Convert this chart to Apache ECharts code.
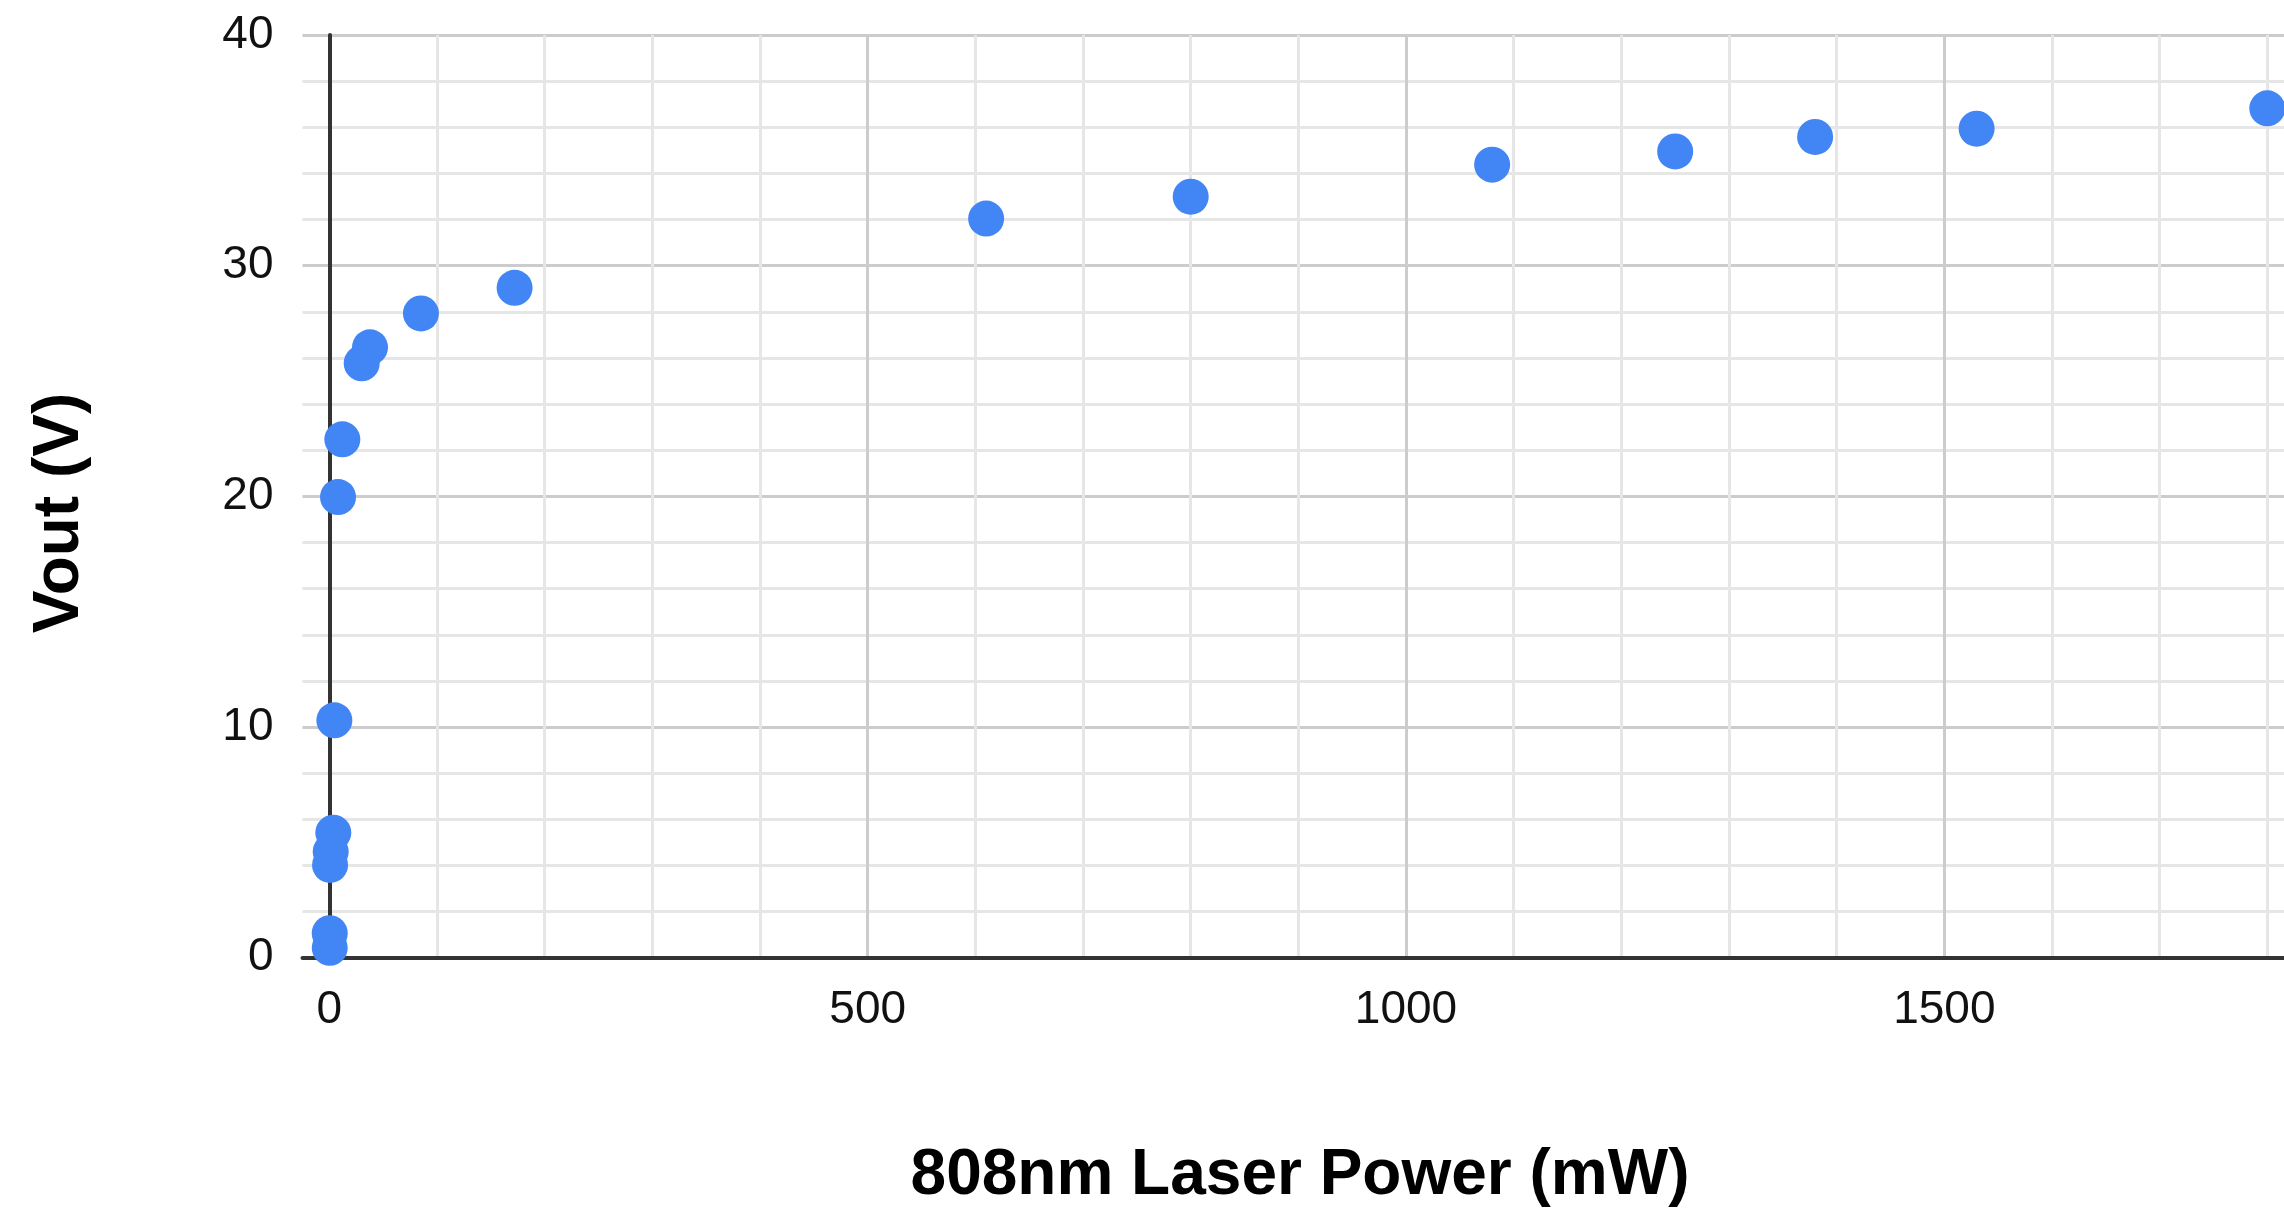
<!DOCTYPE html>
<html>
<head>
<meta charset="utf-8">
<script src="https://cdn.jsdelivr.net/npm/echarts@6/dist/echarts.min.js"></script>
<style>
html,body{margin:0;padding:0;background:#fff;}
#chart{width:2284px;height:1214px;}
</style>
</head>
<body>
<div id="chart"></div>
<script>
// Data
const powerMW = [0.3, 0.3, 0.6, 1.2, 3.6, 4.6, 8, 12, 30, 37.7, 85, 172, 610, 800, 1080, 1250, 1380, 1530, 1800];
const voutV   = [0.43, 1.06, 4.02, 4.6, 5.42, 10.29, 19.97, 22.47, 25.77, 26.46, 27.93, 29.04, 32.04, 32.99, 34.38, 34.95, 35.58, 35.94, 36.82];
const xTitle = '808nm Laser Power (mW)';
const yTitle = 'Vout (V)';
const xTicks = [0, 500, 1000, 1500];
const yTicks = [0, 10, 20, 30, 40];

const FONT = '"Liberation Sans", Arial, sans-serif';
const points = powerMW.map((p, i) => [p, voutV[i]]);

const chart = echarts.init(document.getElementById('chart'), null, {renderer: 'canvas'});
const W = 2284;
const topPx = 35, bottomPx = 1214 - 957.7;
const k = 1.0766;             // px per mW
const leftA = 302.5, minA = -25;
const leftB = leftA + (0 - minA) * k;
const maxX = (W - leftB) / k;  // axis end at the right edge of the picture

chart.setOption({
  animation: false,
  backgroundColor: '#fff',
  grid: [
    {left: leftA, top: topPx, right: 0, bottom: bottomPx, outerBoundsMode: 'none'},
    {left: leftB, top: topPx, right: 0, bottom: bottomPx, outerBoundsMode: 'none'}
  ],
  xAxis: [
    {
      gridIndex: 0, type: 'value', min: minA, max: maxX,
      axisLine: {show: true, onZero: false, lineStyle: {color: '#333', width: 4}},
      axisTick: {show: false}, axisLabel: {show: false}, splitLine: {show: false}
    },
    {
      gridIndex: 1, type: 'value', min: 0, max: maxX, interval: 100,
      axisLine: {show: false}, axisTick: {show: false},
      axisLabel: {show: true, fontSize: 46, color: '#111', fontFamily: FONT, margin: 30,
        showMaxLabel: false,
        formatter: v => xTicks.includes(v) ? String(v) : ''},
      splitLine: {show: true, showMaxLine: false,
        lineStyle: {color: ['#cccccc', '#e6e6e6', '#e6e6e6', '#e6e6e6', '#e6e6e6'], width: 3}}
    }
  ],
  yAxis: [
    {
      gridIndex: 0, type: 'value', min: yTicks[0], max: yTicks[yTicks.length - 1], interval: 10,
      axisLine: {show: true, onZero: true, lineStyle: {color: '#333', width: 4}},
      axisTick: {show: false},
      axisLabel: {show: true, fontSize: 46, color: '#111', fontFamily: FONT, margin: 29},
      splitLine: {show: true, lineStyle: {color: '#cccccc', width: 3}},
      minorTick: {show: false, splitNumber: 5},
      minorSplitLine: {show: true, lineStyle: {color: '#e6e6e6', width: 3}}
    },
    {
      gridIndex: 1, type: 'value', min: 0, max: 40, show: false
    }
  ],
  series: [{
    type: 'scatter',
    xAxisIndex: 0, yAxisIndex: 0,
    data: points,
    symbolSize: 36,
    clip: true,
    itemStyle: {color: '#4285F4', opacity: 1}
  }],
  graphic: [
    {
      type: 'text', x: 1300, y: 1176,
      style: {text: xTitle, font: 'bold 64px ' + FONT, fill: '#000', align: 'center', verticalAlign: 'middle'}
    },
    {
      type: 'text', x: 60, y: 513, rotation: Math.PI / 2,
      style: {text: yTitle, font: 'bold 64px ' + FONT, fill: '#000', align: 'center', verticalAlign: 'middle'}
    }
  ]
});
</script>
</body>
</html>
